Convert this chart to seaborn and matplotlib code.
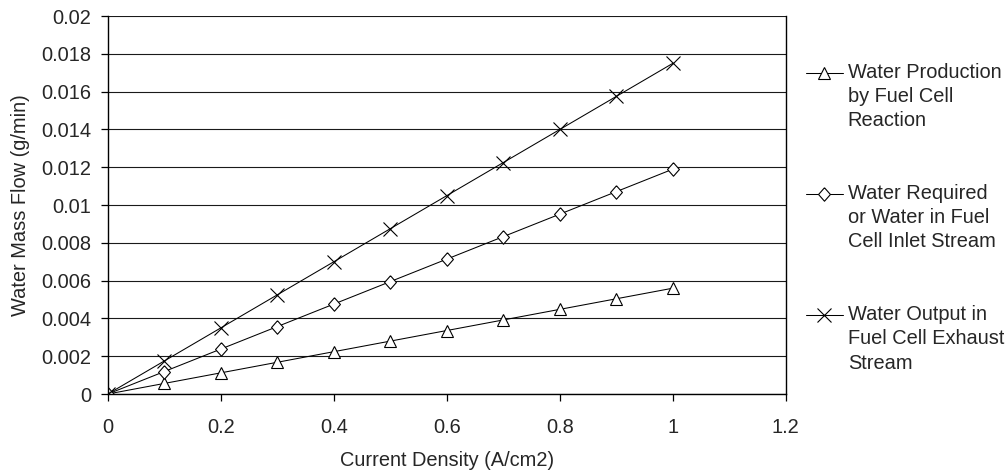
import numpy as np
import pandas as pd
import matplotlib
matplotlib.use("Agg")
import matplotlib.pyplot as plt
import seaborn as sns
from matplotlib.legend_handler import HandlerLine2D

# data
current_density = [0, 0.1, 0.2, 0.3, 0.4, 0.5, 0.6, 0.7, 0.8, 0.9, 1.0]
water_production = [0, 0.00056, 0.00112, 0.00168, 0.00224, 0.0028, 0.00336, 0.00392, 0.00448, 0.00504, 0.0056]
water_required = [0, 0.00119, 0.00238, 0.00357, 0.00476, 0.00595, 0.00714, 0.00833, 0.00952, 0.01071, 0.0119]
water_output = [0, 0.00175, 0.0035, 0.00525, 0.007, 0.00875, 0.0105, 0.01225, 0.014, 0.01575, 0.0175]

labels = ["Water Production\nby Fuel Cell\nReaction",
          "Water Required\nor Water in Fuel\nCell Inlet Stream",
          "Water Output in\nFuel Cell Exhaust\nStream"]
x_ticks = [0, 0.2, 0.4, 0.6, 0.8, 1.0, 1.2]
x_ticklabels = ["0", "0.2", "0.4", "0.6", "0.8", "1", "1.2"]
y_ticks = [0, 0.002, 0.004, 0.006, 0.008, 0.01, 0.012, 0.014, 0.016, 0.018, 0.02]
y_ticklabels = ["0", "0.002", "0.004", "0.006", "0.008", "0.01", "0.012", "0.014", "0.016", "0.018", "0.02"]

sns.set_style("white")
plt.rcParams['font.family'] = ['Liberation Sans', 'DejaVu Sans']
fs = 14.4

fig = plt.figure(figsize=(10.08, 4.73), dpi=100)
ax = fig.add_axes([0.107, 0.167, 0.6726, 0.799])

# excel style diamond, a bit taller than wide
diamond = [(0, 1), (0.88, 0), (0, -1), (-0.88, 0), (0, 1)]
series = [(water_production, '^', 8.5), (water_required, diamond, 9.7), (water_output, 'x', 9.6)]
for (vals, mk, ms), lab in zip(series, labels):
    df = pd.DataFrame({'x': current_density, 'y': vals})
    sns.lineplot(data=df, x='x', y='y', ax=ax, color='black', linewidth=0.75,
                 marker=mk, markersize=ms, markerfacecolor='white',
                 markeredgecolor='black', markeredgewidth=0.8, label=lab)

ax.set_xlim(0, 1.2)
ax.set_ylim(0, 0.02)
ax.set_xticks(x_ticks)
ax.set_xticklabels(x_ticklabels)
ax.set_yticks(y_ticks)
ax.set_yticklabels(y_ticklabels)
ax.yaxis.grid(True, color='#1a1a1a', linewidth=0.8)
ax.xaxis.grid(False)
ax.set_axisbelow(True)
for s in ['left', 'bottom', 'right']:
    ax.spines[s].set_color('black')
    ax.spines[s].set_linewidth(1.0)
ax.spines['top'].set_visible(False)
ax.tick_params(axis='both', which='major', direction='out', length=5, width=0.9,
               color='black', left=True, bottom=True, labelsize=fs)
ax.tick_params(axis='x', pad=12)
ax.tick_params(axis='y', pad=7)
ax.set_xlabel("Current Density (A/cm2)", fontsize=fs, labelpad=10)
ax.set_ylabel("Water Mass Flow (g/min)", fontsize=fs, labelpad=8)


class TopHandler(HandlerLine2D):
    # put the handle on the first line of the label, like excel does
    def create_artists(self, legend, orig_handle, xdescent, ydescent, width, height, fontsize, trans):
        return super().create_artists(legend, orig_handle, xdescent, ydescent - 35, width, height, fontsize, trans)


handles, labs = ax.get_legend_handles_labels()
leg = ax.legend(handles, labs, loc='upper left', bbox_to_anchor=(1.0295, 0.8764), frameon=False,
                handlelength=1.85, handletextpad=0.25, labelspacing=2.67, fontsize=fs,
                borderaxespad=0, borderpad=0, handler_map={h: TopHandler() for h in handles})
for t in leg.get_texts():
    t.set_linespacing(1.355)

fig.savefig("out.png", dpi=100)
